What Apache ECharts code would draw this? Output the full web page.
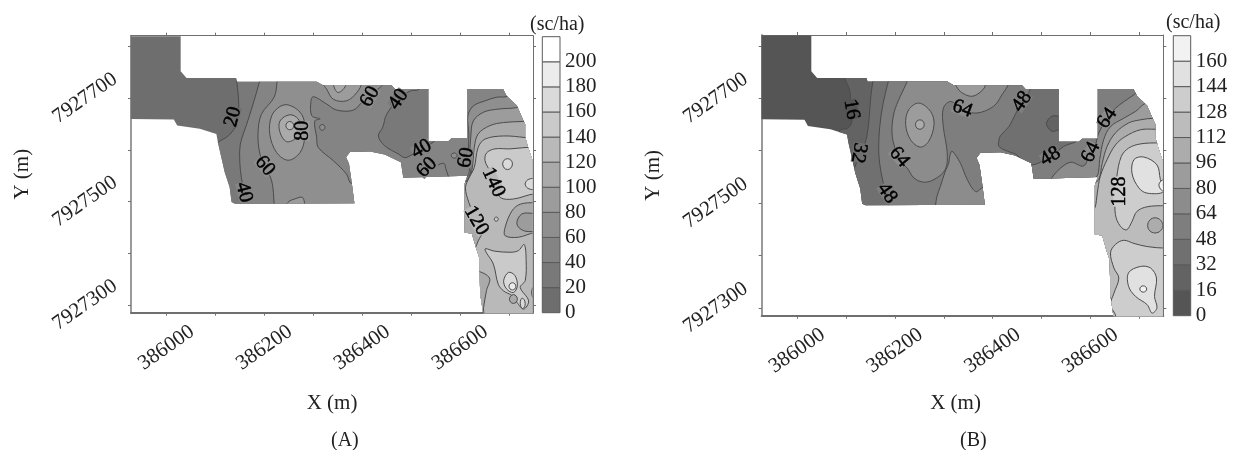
<!DOCTYPE html>
<html><head><meta charset="utf-8">
<style>html,body{margin:0;padding:0;background:#fff}#c{width:1242px;height:450px;filter:blur(0.4px)}</style>
<script src="https://cdn.jsdelivr.net/npm/echarts@6/dist/echarts.min.js"></script>
</head><body><div id="c"></div>
<script>
// Coordinates: metres east of 386000 and metres north of 7927000
const EAST0 = 386000, NORTH0 = 7927000;
const eastRange = [-72.5, 749], northRange = [285, 821];
const xTickValues = [0,100,200,300,400,500,600,700];
const xLabelValues = [0,200,400,600];
const yTickValues = [300,400,500,600,700,800];
const yLabelValues = [300,500,700];
const barTicksA = [0,20,40,60,80,100,120,140,160,180,200,220];
const barTicksB = [0,16,32,48,64,80,96,112,128,144,160,176];
const bandColorsA = ['#6e6e6e','#797979','#848484','#8f8f8f','#9c9c9c','#aaaaaa','#b9b9b9','#cacaca','#dadada','#ececec','#ffffff'];
const bandColorsB = ['#555555','#636363','#707070','#7e7e7e','#8c8c8c','#9c9c9c','#acacac','#bcbcbc','#cdcdcd','#e1e1e1','#f2f2f2'];

const region = [[-73,820],[29,820],[29,752],[41,739],[142,739],[144,732],[307,732],[320,725],[460,725],[467,718],[535,718],[535,617],[576,617],[583,623],[615,623],[615,718],[688,718],[695,705],[716,686],[728,660],[733,650],[733,625],[739,605],[748,580],[748,284],[647,284],[641,322],[639,392],[632,412],[624,438],[609,440],[609,534],[615,550],[484,546],[479,576],[446,591],[416,597],[375,596],[367,586],[373,573],[378,541],[384,497],[140,496],[133,499],[129,528],[119,557],[112,586],[105,615],[102,631],[68,641],[22,647],[15,659],[-73,660]];

// Panel A contours
const a20 = [[143,760],[143,739],[147,702],[147,669],[140,644],[126,627],[106,615],[90,600],[90,200],[850,200],[850,900],[143,900]];
const a40 = [[192,744],[190,732],[177,689],[164,650],[151,611],[150,573],[153,547],[157,521],[151,495],[150,476],[150,200],[850,200],[850,900],[192,900]];
const a60 = [[226,744],[226,732],[220,702],[194,669],[187,631],[191,592],[201,569],[215,540],[220,495],[220,476],[389,476],[390,534],[382,534],[375,537],[368,553],[341,579],[310,605],[307,624],[303,656],[314,660],[297,666],[295,692],[300,703],[327,689],[348,677],[382,677],[402,695],[423,711],[443,731],[443,900],[226,900]];
const a80peak = [[249,687],[273,673],[283,650],[283,624],[273,595],[249,580],[225,595],[211,631],[215,666],[232,684]];
const a100peak = [[252,668],[269,660],[276,640],[262,621],[245,616],[232,634],[232,656]];
const a120peak = [[252,655],[260,647],[252,639],[244,647]];
const a80lobe = [[319,731],[327,718],[341,698],[368,695],[389,711],[399,731],[400,900],[319,900]];
const a100lobe = [[341,728],[351,711],[367,728],[367,900],[341,900]];
const a80bottom = [[243,490],[250,500],[262,505],[278,508],[280,490]];
const a60spot = [[318,649],[324,644],[318,638],[313,644]];
const a40low = [[515,718],[498,714],[474,698],[450,669],[442,644],[433,627],[446,608],[474,592],[487,585],[504,592],[521,602],[545,615],[556,630],[556,900],[515,900]];
const a60south = [[525,520],[525,546],[535,568],[552,570],[567,574],[572,560],[580,545],[610,540],[620,520]];
const a60spot2 = [[588,594],[594,589],[588,584],[582,589]];
const a60east = [[709,711],[694,703],[675,702],[651,695],[627,685],[616,666],[618,631],[617,592],[619,560],[614,547],[600,534],[600,200],[850,200],[850,711]];
const a80east = [[730,689],[716,682],[678,679],[648,673],[627,656],[622,627],[620,592],[622,560],[615,543],[601,533],[601,200],[850,200],[850,689]];
const a100east = [[736,655],[728,655],[689,653],[661,647],[637,631],[629,605],[624,560],[614,540],[600,531],[600,200],[850,200],[850,655]];
const a120east = [[740,623],[733,624],[689,627],[651,621],[637,605],[629,566],[619,547],[611,527],[618,498],[633,463],[644,440],[637,424],[629,408],[617,405],[617,200],[850,200],[850,623]];
const a140north = [[753,606],[702,602],[671,602],[654,594],[651,579],[660,560],[669,534],[682,508],[709,505],[753,515],[850,514],[850,606]];
const a160spot = [[697,583],[707,573],[697,562],[687,573]];
const a160edge = [[750,545],[738,542],[733,534],[738,526],[750,523],[800,523],[800,545]];
const a140spot = [[674,470],[678,466],[674,462],[670,466]];
const a120low = [[753,498],[723,495],[706,482],[692,450],[692,434],[719,431],[753,440],[800,440],[800,498]];
const a100low = [[753,477],[726,476],[716,457],[729,444],[753,442],[800,442],[800,477]];
const a140south = [[651,408],[671,404],[702,402],[719,405],[731,417],[735,386],[733,347],[723,334],[740,308],[730,292],[716,305],[706,318],[689,327],[678,340],[668,379]];
const a160south = [[689,347],[699,363],[712,357],[717,337],[709,324],[695,331]];
const a180south = [[707,343],[714,336],[707,329],[700,336]];
const a100spot = [[709,320],[717,311],[709,303],[701,311]];
const a160lobe = [[727,313],[733,303],[728,293],[723,303]];
const a120edge = [[753,337],[746,324],[753,311],[800,311],[800,337]];
const a120west = [[634,366],[660,352],[654,328],[648,295],[646,276],[600,276],[600,366]];

// Panel B contours
const b16 = [[94,748],[97,739],[108,713],[109,685],[112,656],[104,643],[89,640],[85,631],[85,200],[850,200],[850,900],[94,900]];
const b32 = [[157,745],[155,734],[150,697],[147,659],[141,621],[130,596],[117,567],[109,557],[109,200],[850,200],[850,900],[157,900]];
const b48 = [[190,745],[187,734],[176,691],[169,646],[167,596],[172,557],[181,519],[187,484],[187,200],[850,200],[850,900],[190,900]];
const b64mid = [[228,745],[226,734],[211,704],[198,672],[194,634],[201,602],[211,580],[225,567],[239,548],[259,540],[280,545],[303,564],[307,596],[299,646],[299,681],[314,694],[341,678],[368,672],[402,685],[419,707],[433,732],[433,900],[228,900]];
const b64south = [[303,561],[293,532],[286,513],[283,494],[283,481],[389,481],[385,532],[378,529],[365,522],[348,545],[334,576],[317,599],[312,589],[310,576]];
const b80peak = [[249,691],[273,675],[280,650],[269,618],[252,607],[232,621],[222,650],[228,678]];
const b96peak = [[251,659],[260,650],[251,641],[242,650]];
const b80lobe = [[322,732],[324,726],[334,713],[355,704],[372,710],[385,726],[385,900],[322,900]];
const b48low = [[477,720],[460,694],[446,669],[433,646],[416,629],[413,621],[413,608],[436,597],[446,594],[477,573],[518,589],[545,608],[576,625],[576,900],[477,900]];
const b32spot = [[535,666],[521,666],[510,652],[521,637],[535,640],[545,640],[545,666]];
const b64east = [[699,713],[689,707],[651,681],[633,660],[617,634],[610,611],[600,596],[586,571],[560,578],[539,567],[519,546],[515,535],[515,200],[850,200],[850,713]];
const b80east = [[716,691],[692,675],[668,662],[641,646],[627,621],[619,583],[615,554],[603,538],[603,200],[850,200],[850,691]];
const b96east = [[730,662],[702,659],[678,653],[651,634],[634,608],[624,576],[617,545],[603,532],[603,200],[850,200],[850,662]];
const b112east = [[733,641],[702,640],[671,627],[651,611],[634,583],[620,551],[614,519],[609,491],[600,484],[600,200],[850,200],[850,641]];
const b128north = [[740,615],[702,613],[678,605],[663,589],[654,551],[651,513],[651,478],[661,456],[674,449],[685,465],[695,484],[716,493],[753,495],[850,495],[850,615]];
const b96spot = [[732,472],[748,457],[732,443],[717,457]];
const b128south = [[753,414],[716,417],[689,423],[668,429],[651,421],[641,405],[648,376],[658,357],[648,328],[641,306],[651,287],[654,277],[850,277],[850,414]];
const b144south = [[702,379],[723,376],[735,357],[731,322],[736,300],[726,290],[716,306],[692,322],[678,341],[678,367]];
const b160south = [[708,342],[715,336],[708,330],[701,336]];
const b144north = [[689,583],[709,588],[736,573],[743,545],[750,522],[716,519],[699,529],[685,557]];
const b160edge = [[750,545],[740,535],[750,522],[800,522],[800,545]];

// [contour, band index]
const polysA = [[a20,1],[a40,2],[a60,3],[a80peak,4],[a100peak,5],[a120peak,6],[a80lobe,4],[a100lobe,5],[a80bottom,4],[a60spot,3],[a40low,1],[a60south,2],[a60spot2,3],[a60east,3],[a80east,4],[a100east,5],[a120east,6],[a140north,7],[a160spot,8],[a160edge,8],[a140spot,7],[a120low,5],[a100low,4],[a140south,7],[a160south,8],[a180south,9],[a100spot,5],[a160lobe,8],[a120edge,5],[a120west,5]];
const polysB = [[b16,1],[b32,2],[b48,3],[b48low,2],[b32spot,1],[b64mid,4],[b64south,4],[b80peak,5],[b96peak,6],[b80lobe,5],[b64east,4],[b80east,5],[b96east,6],[b112east,7],[b128north,8],[b96spot,6],[b128south,8],[b144south,9],[b160south,10],[b144north,9],[b160edge,10]];

// [text, east, north, rotation in degrees, band behind the text]
const labelsA = [['20',136,664,75,0],['40',158,518,-75,2],['60',201,569,-50,3],['80',279,637,90,4],['60',416,703,60,3],['40',474,698,55,1],['40',521,602,30,2],['60',532,566,45,2],['60',612,585,80,2],['140',668,537,-65,6],['120',633,463,-60,6]];
const labelsB = [['16',111,679,-80,0],['32',126,596,-100,2],['64',209,588,-50,4],['48',184,519,-55,3],['64',338,680,-20,4],['48',460,694,55,3],['64',634,662,55,4],['48',518,589,30,3],['64',601,597,65,4],['128',660,522,90,8]];

const SERIF = '"Liberation Serif","Times New Roman",serif';
const toAbs = p => [p[0]+EAST0, p[1]+NORTH0];

function mapSeries(ax, polys, colors, labels){
  return [{
    type:'custom', xAxisIndex:ax, yAxisIndex:ax, silent:true, clip:false, z:2,
    data: [[0,0]].concat(polys.map((p,i)=>[i+1,i+1])),
    renderItem(params, api){
      const clip = region.map(p=>api.coord(toAbs(p)));
      const i = params.dataIndex;
      if(i===0) return {type:'polygon',shape:{points:clip},style:{fill:colors[0],stroke:null}};
      const poly = polys[i-1];
      return {type:'polygon',
        shape:{points:poly[0].map(p=>api.coord(toAbs(p))),smooth:poly[0].length===4?0.55:0.35},
        style:{fill:colors[poly[1]],stroke:'#4b4b4b',lineWidth:1},
        clipPath:{type:'polygon',shape:{points:clip}}};
    }
  },{
    type:'custom', xAxisIndex:ax, yAxisIndex:ax, silent:true, clip:false, z:3,
    data: labels.map((l,i)=>[i,i]),
    renderItem(params, api){
      const l = labels[params.dataIndex];
      const c = api.coord(toAbs([l[1],l[2]]));
      return {type:'text',x:c[0],y:c[1],rotation:l[3]*Math.PI/180,
        style:{text:l[0],fill:'#000',font:'20px '+SERIF,align:'center',verticalAlign:'middle',
               stroke:'#000',lineWidth:0.5,backgroundColor:colors[l[4]],lineHeight:13}};
    }
  }];
}
function barSeries(ax, ticks, colors){
  return {type:'custom', xAxisIndex:ax, yAxisIndex:ax, silent:true, clip:false,
    data: colors.map((c,i)=>[i,i]),
    renderItem(params, api){
      const i = params.dataIndex;
      const a = api.coord([0,ticks[i]]), b = api.coord([1,ticks[i+1]]);
      return {type:'rect',shape:{x:a[0],y:b[1],width:b[0]-a[0],height:a[1]-b[1]},
        style:{fill:colors[i],stroke:'#5a5a5a',lineWidth:1}};
    }};
}
const xEast = xTickValues.map(v=>v+EAST0), xLab = xLabelValues.map(v=>v+EAST0);
const yNorth = yTickValues.map(v=>v+NORTH0), yLab = yLabelValues.map(v=>v+NORTH0);
const AX = '#6f6f6f';
function xAx(grid,pos,name,pad,gap){
  const main = pos==='bottom';
  return {type:'value',gridIndex:grid,position:pos,min:eastRange[0]+EAST0,max:eastRange[1]+EAST0,
    name:main?name:'',nameLocation:'middle',nameGap:gap||80,
    nameTextStyle:{fontFamily:SERIF,fontSize:21,color:'#222',padding:[0,pad||0,0,0]},
    axisLine:{show:true,onZero:false,lineStyle:{color:AX,width:main?2:1}},
    axisTick:{show:true,length:3,customValues:xEast,lineStyle:{color:AX}},
    axisLabel:{show:main,customValues:xLab,rotate:35,align:'center',verticalAlign:'middle',margin:35,
      fontFamily:SERIF,fontSize:21,color:'#222',formatter:v=>String(v)},
    splitLine:{show:false}};
}
function yAx(grid,pos,name,gap){
  const main = pos==='left';
  return {type:'value',gridIndex:grid,position:pos,min:northRange[0]+NORTH0,max:northRange[1]+NORTH0,
    name:main?name:'',nameLocation:'middle',nameGap:gap,nameRotate:90,
    nameTextStyle:{fontFamily:SERIF,fontSize:21,color:'#222'},
    axisLine:{show:true,onZero:false,lineStyle:{color:main?'#9a9a9a':AX,width:main?2:1}},
    axisTick:{show:true,length:3,customValues:yNorth,lineStyle:{color:AX}},
    axisLabel:{show:main,customValues:yLab,rotate:35,align:'center',verticalAlign:'middle',margin:46,
      fontFamily:SERIF,fontSize:21,color:'#222',formatter:v=>String(v)},
    splitLine:{show:false}};
}
function barY(grid,ticks){
  return {type:'value',gridIndex:grid,position:'right',min:0,max:ticks[ticks.length-1],
    axisLine:{show:false},axisTick:{show:false},splitLine:{show:false},
    axisLabel:{show:true,customValues:ticks.slice(0,-1),margin:5,fontFamily:SERIF,fontSize:21,color:'#222',formatter:v=>String(v)}};
}
function barX(grid){
  return {type:'value',gridIndex:grid,min:0,max:1,show:false};
}
const capStyle = {fontFamily:SERIF,fontSize:20,fontWeight:'normal',color:'#222'};
const option = {
  animation:false, backgroundColor:'#fff',
  title:[
    {text:'(sc/ha)',left:525,top:10,textStyle:capStyle},
    {text:'(sc/ha)',left:1161,top:8,textStyle:capStyle},
    {text:'(A)',left:326,top:426,textStyle:capStyle},
    {text:'(B)',left:955,top:426,textStyle:capStyle}
  ],
  grid:[
    {left:131,top:35.7,width:402,height:277},
    {left:761.7,top:35,width:401.6,height:280.7},
    {left:542.3,top:36.7,width:17.7,height:276},
    {left:1173.3,top:35.7,width:17.4,height:280}
  ],
  xAxis:[xAx(0,'bottom','X (m)'),xAx(0,'top'),xAx(1,'bottom','X (m)',14,77),xAx(1,'top'),barX(2),barX(3)],
  yAxis:[yAx(0,'left','Y (m)',98),yAx(0,'right'),yAx(1,'left','Y (m)',98),yAx(1,'right'),barY(2,barTicksA),barY(3,barTicksB)],
  series:[
    ...mapSeries(0,polysA,bandColorsA,labelsA),
    ...mapSeries(2,polysB,bandColorsB,labelsB),
    barSeries(4,barTicksA,bandColorsA),
    barSeries(5,barTicksB,bandColorsB)
  ]
};
echarts.init(document.getElementById('c')).setOption(option);
</script></body></html>
